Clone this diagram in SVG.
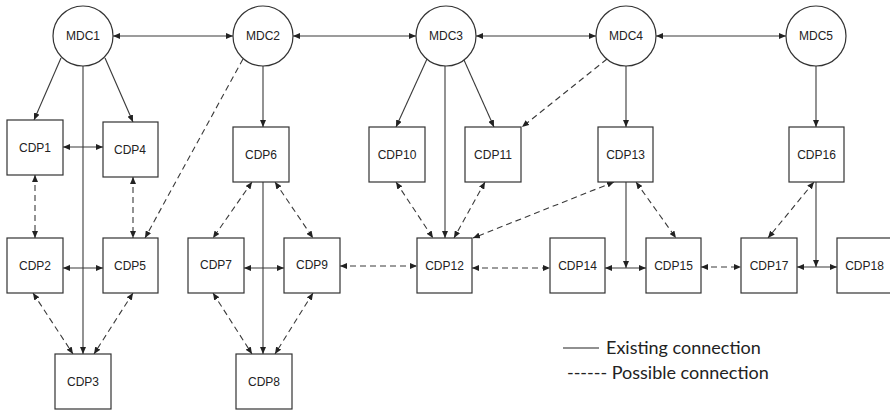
<svg xmlns="http://www.w3.org/2000/svg" width="890" height="410" viewBox="0 0 890 410">
<style>
.n rect, .n circle { fill: #fff; stroke: #333; stroke-width: 1.2; }
.n text { font-family: "Liberation Sans", Arial, sans-serif; font-size: 12px; fill: #222; text-anchor: middle; }
.c line { stroke: #3a3a3a; stroke-width: 1.1; fill: none; }
.c .s { marker-end: url(#ah); }
.c .b { marker-start: url(#ah); marker-end: url(#ah); }
.c .d { stroke-dasharray: 6 4; }
.leg { font-family: "Lato", "Liberation Sans", sans-serif; font-size: 18px; fill: #222; }
</style>
<defs>
<marker id="ah" viewBox="0 0 7 6" refX="7" refY="3" markerWidth="7" markerHeight="6" markerUnits="userSpaceOnUse" orient="auto-start-reverse">
<path d="M0,0 L7,3 L0,6 z" fill="#222"/>
</marker>
</defs>
<rect width="890" height="410" fill="#fff"/>
<g id="connectors" class="c">
<line class="b" x1="113" y1="36" x2="233" y2="36"/>
<line class="b" x1="293" y1="36" x2="416" y2="36"/>
<line class="b" x1="476" y1="36" x2="596" y2="36"/>
<line class="b" x1="656" y1="36" x2="786" y2="36"/>
<line class="s" x1="61" y1="58" x2="34" y2="120"/>
<line class="s" x1="105" y1="58" x2="133" y2="122"/>
<line class="s" x1="83" y1="66" x2="83" y2="354"/>
<line class="s" x1="263" y1="66" x2="263" y2="127"/>
<line class="s d" x1="243" y1="59" x2="145" y2="238"/>
<line class="s" x1="427" y1="59" x2="396" y2="127"/>
<line class="s" x1="464" y1="60" x2="494" y2="127"/>
<line class="s" x1="445" y1="66" x2="445" y2="238"/>
<line class="s d" x1="607" y1="59" x2="522" y2="127"/>
<line class="s" x1="626" y1="66" x2="626" y2="127"/>
<line class="s" x1="816" y1="66" x2="816" y2="127"/>
<line class="b" x1="63" y1="147" x2="103" y2="147"/>
<line class="b d" x1="35" y1="175" x2="35" y2="238"/>
<line class="b d" x1="133" y1="177" x2="133" y2="238"/>
<line class="b" x1="63" y1="268" x2="103" y2="268"/>
<line class="b d" x1="33" y1="293" x2="73" y2="354"/>
<line class="b d" x1="133" y1="293" x2="94" y2="354"/>
<line class="b d" x1="252" y1="182" x2="213" y2="238"/>
<line class="b d" x1="275" y1="182" x2="313" y2="238"/>
<line class="b" x1="244" y1="268" x2="284" y2="268"/>
<line class="b d" x1="213" y1="293" x2="252" y2="354"/>
<line class="b d" x1="313" y1="293" x2="275" y2="354"/>
<line class="s" x1="263" y1="182" x2="263" y2="354"/>
<line class="b d" x1="340" y1="266" x2="417" y2="266"/>
<line class="b d" x1="396" y1="182" x2="433" y2="238"/>
<line class="b d" x1="485" y1="182" x2="454" y2="238"/>
<line class="b d" x1="614" y1="182" x2="473" y2="238"/>
<line class="b d" x1="472" y1="268" x2="550" y2="268"/>
<line class="s" x1="626" y1="182" x2="626" y2="268"/>
<line class="b" x1="605" y1="268" x2="646" y2="268"/>
<line class="b d" x1="636" y1="182" x2="676" y2="238"/>
<line class="b d" x1="701" y1="267" x2="741" y2="267"/>
<line class="b d" x1="814" y1="182" x2="768" y2="238"/>
<line class="s" x1="816" y1="182" x2="816" y2="267"/>
<line class="b" x1="797" y1="267" x2="837" y2="267"/>
</g>
<g id="MDC1" class="n"><circle cx="83" cy="36" r="30"/><text x="83" y="40">MDC1</text></g>
<g id="MDC2" class="n"><circle cx="263" cy="36" r="30"/><text x="263" y="40">MDC2</text></g>
<g id="MDC3" class="n"><circle cx="446" cy="36" r="30"/><text x="446" y="40">MDC3</text></g>
<g id="MDC4" class="n"><circle cx="626" cy="36" r="30"/><text x="626" y="40">MDC4</text></g>
<g id="MDC5" class="n"><circle cx="816" cy="36" r="30"/><text x="816" y="40">MDC5</text></g>
<g id="CDP1" class="n"><rect x="7" y="120" width="56" height="55"/><text x="35" y="152">CDP1</text></g>
<g id="CDP4" class="n"><rect x="103" y="122" width="55" height="55"/><text x="130" y="154">CDP4</text></g>
<g id="CDP2" class="n"><rect x="7" y="238" width="56" height="55"/><text x="35" y="270">CDP2</text></g>
<g id="CDP5" class="n"><rect x="103" y="238" width="55" height="55"/><text x="130" y="270">CDP5</text></g>
<g id="CDP3" class="n"><rect x="55" y="354" width="56" height="55"/><text x="83" y="386">CDP3</text></g>
<g id="CDP6" class="n"><rect x="233" y="127" width="56" height="55"/><text x="261" y="159">CDP6</text></g>
<g id="CDP7" class="n"><rect x="188" y="238" width="56" height="55"/><text x="216" y="269">CDP7</text></g>
<g id="CDP9" class="n"><rect x="284" y="238" width="56" height="55"/><text x="312" y="269">CDP9</text></g>
<g id="CDP8" class="n"><rect x="236" y="354" width="56" height="55"/><text x="264" y="386">CDP8</text></g>
<g id="CDP10" class="n"><rect x="369" y="127" width="56" height="55"/><text x="397" y="159">CDP10</text></g>
<g id="CDP11" class="n"><rect x="465" y="127" width="56" height="55"/><text x="493" y="159">CDP11</text></g>
<g id="CDP12" class="n"><rect x="417" y="238" width="55" height="55"/><text x="444.5" y="270">CDP12</text></g>
<g id="CDP13" class="n"><rect x="598" y="127" width="55" height="55"/><text x="625.5" y="159">CDP13</text></g>
<g id="CDP14" class="n"><rect x="550" y="238" width="55" height="55"/><text x="577.5" y="270">CDP14</text></g>
<g id="CDP15" class="n"><rect x="646" y="238" width="55" height="55"/><text x="673.5" y="270">CDP15</text></g>
<g id="CDP16" class="n"><rect x="789" y="127" width="55" height="55"/><text x="816.5" y="159">CDP16</text></g>
<g id="CDP17" class="n"><rect x="741" y="238" width="56" height="55"/><text x="769" y="270">CDP17</text></g>
<g id="CDP18" class="n"><rect x="837" y="238" width="55" height="55"/><text x="864.5" y="270">CDP18</text></g>
<g id="legend">
<line x1="563" y1="348" x2="599" y2="348" stroke="#222" stroke-width="1.1"/>
<text class="leg" x="606" y="354">Existing connection</text>
<text class="leg" x="567" y="379">------ Possible connection</text>
</g>
</svg>
